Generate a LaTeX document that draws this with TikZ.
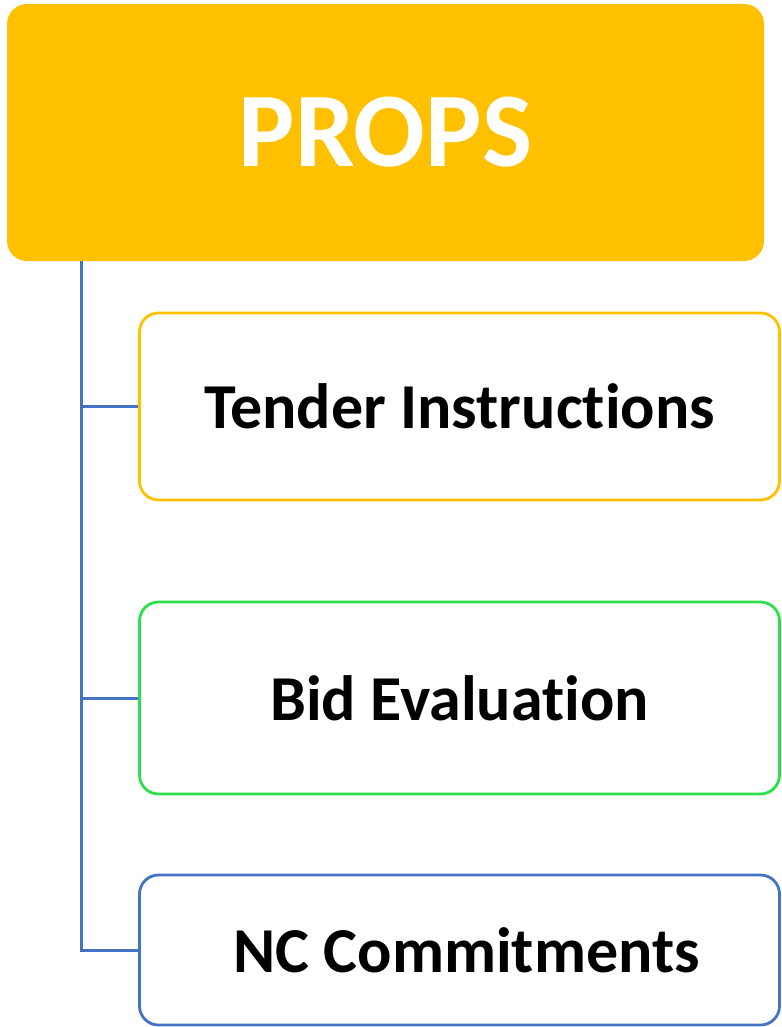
\documentclass[tikz,border=0pt]{standalone}
\usepackage{fontspec}
\setmainfont{Carlito}[Ligatures=NoCommon, Contextuals=NoAlternate, RawFeature=-liga]
\usepackage{tikz}

\definecolor{propsgold}{HTML}{FFC000}
\definecolor{evalgreen}{HTML}{2BE04A}
\definecolor{linkblue}{HTML}{4472C4}

\tikzset{
    item/.style={line width=2.8pt, rounded corners=19pt, fill=white, text=black,
        minimum width=640pt, font=\bfseries\fontsize{64}{72}\selectfont},
    link/.style={linkblue, line width=3pt}
}

\begin{document}
\begin{tikzpicture}[x=1pt, y=-1pt]
    \useasboundingbox (0, 0) rectangle (781, 1027);

    \node[fill=propsgold, rounded corners=20pt, minimum width=757pt, minimum height=257pt,
        text=white, font=\bfseries\fontsize{106}{120}\selectfont] (props) at (385.5, 132.5) {PROPS};

    \node[item, draw=propsgold, minimum height=187pt] (tender) at (459.5, 406.5) {Tender Instructions};
    \node[item, draw=evalgreen, minimum height=192pt] (bid) at (459.5, 698) {Bid Evaluation};
    \node[item, draw=linkblue, minimum height=150pt] (nc) at (459.5, 950) {\hspace*{14pt}NC Commitments};

    \coordinate (spine) at (81, 261); % under the title

    \draw[link] (spine) |- (nc.west);
    \draw[link] (spine |- tender.west) -- (tender.west);
    \draw[link] (spine |- bid.west) -- (bid.west);
\end{tikzpicture}
\end{document}
